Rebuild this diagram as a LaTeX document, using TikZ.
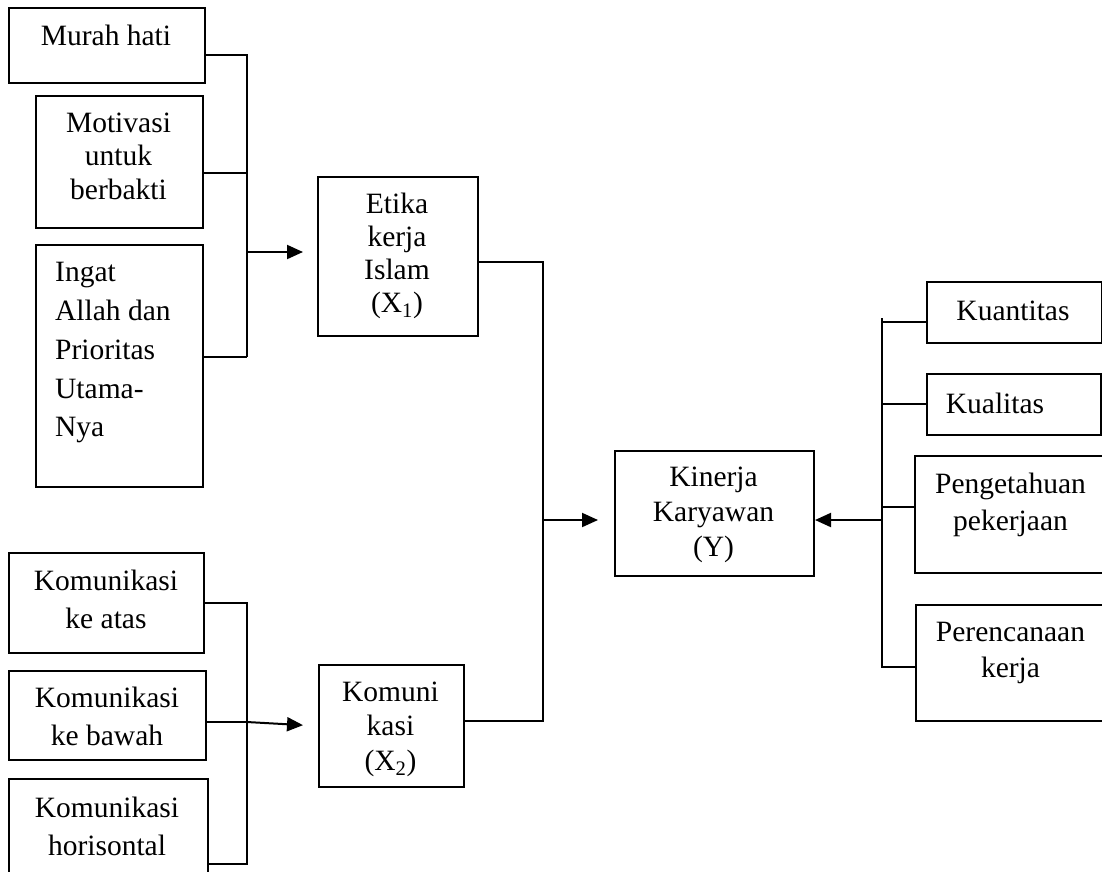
\documentclass[tikz,border=0pt]{standalone}
\usepackage{fontspec}
\setmainfont{Liberation Serif}
\usetikzlibrary{positioning,calc,arrows.meta}

\tikzset{
  box/.style={draw, line width=2pt, anchor=north west, inner sep=0pt},
  txt/.style={font=\fontsize{29.5}{#1}\selectfont, align=center, inner sep=0pt},
  txt/.default=36,
  conn/.style={line width=2pt},
  arr/.style={conn, -{Triangle[length=16pt,width=14pt]}},
}

\begin{document}
\begin{tikzpicture}[x=1pt,y=-1pt]
\useasboundingbox (0,0) rectangle (1102,871);
\clip (0,0) rectangle (1102,871);

% INDICATORS X1

\node[box, minimum width=196pt, minimum height=75pt]  (x1i1) at (8,7)   {};
\node[box, minimum width=167pt, minimum height=132pt] (x1i2) at (35,95)  {};
\node[box, minimum width=167pt, minimum height=242pt] (x1i3) at (35,244) {};

\node[txt, anchor=base] (x1i1t) at (106,45) {Murah hati};
\node[txt=33.5] (x1i2t) at (118.5,156) {Motivasi\\untuk\\berbakti};
\node[txt=38.75, align=left, anchor=west] (x1i3t) at (55,353) {Ingat\\Allah dan\\Prioritas\\Utama-\\Nya};

% INDICATORS X2

\node[box, minimum width=195pt, minimum height=100pt] (x2i1) at (8,552) {};
\node[box, minimum width=197pt, minimum height=89pt]  (x2i2) at (8,670) {};
\node[box, minimum width=199pt, minimum height=130pt] (x2i3) at (8,778) {};

\node[txt=38] (x2i1t) at (106,599) {Komunikasi\\ke atas};
\node[txt=38] (x2i2t) at (107,716) {Komunikasi\\ke bawah};
\node[txt=38] (x2i3t) at (107,826) {Komunikasi\\horisontal};

% VARIABLES

\node[box, minimum width=160pt, minimum height=159pt] (x1) at (317,176) {};
\node[box, minimum width=145pt, minimum height=122pt] (x2) at (318,664) {};
\node[box, minimum width=199pt, minimum height=125pt] (y)  at (614,450) {};

\node[txt=33]   (x1t) at (397,256)   {Etika\\kerja\\Islam\\(X\textsubscript{1})};
\node[txt=34.5] (x2t) at (390.5,729) {Komuni\\kasi\\(X\textsubscript{2})};
\node[txt=35]   (yt)  at (713.5,515) {Kinerja\\Karyawan\\(Y)};

% INDICATORS Y

\node[box, minimum width=175pt, minimum height=61pt]  (yi1) at (926,281) {};
\node[box, minimum width=174pt, minimum height=61pt]  (yi2) at (926,373) {};
\node[box, minimum width=200pt, minimum height=117pt] (yi3) at (914,455) {};
\node[box, minimum width=200pt, minimum height=116pt] (yi4) at (915,604) {};

\node[txt, anchor=base] (yi1t) at (1013,320) {Kuantitas};
\node[txt, anchor=base] (yi2t) at (995,413)  {Kualitas};
\node[txt=37] (yi3t) at (1010.5,505) {Pengetahuan\\pekerjaan};
\node[txt=36] (yi4t) at (1010.5,653) {Perencanaan\\kerja};

% CONNECTORS X1

\coordinate (a1) at (247,55);
\coordinate (a2) at (247,173);
\coordinate (a3) at (247,357);
\coordinate (a4) at (247,252);

\draw[conn] (x1i1.east |- a1) -- (a1) -- (a3);
\draw[conn] (x1i2.east |- a2) -- (a2);
\draw[conn] (x1i3.east |- a3) -- (a3);
\draw[arr, shorten >=14pt] (a4) -- (x1.west |- a4);

% CONNECTORS X2

\coordinate (b1) at (247,603);
\coordinate (b2) at (247,722);
\coordinate (b3) at (247,864);

\draw[conn] (x2i1.east |- b1) -- (b1) -- (b3) -- (x2i3.east |- b3);
\draw[conn] (x2i2.east |- b2) -- (b2);
\draw[arr, shorten >=15pt] (b2) -- (x2.west);

% CONNECTORS TO Y

\coordinate (m1) at (543,262);
\coordinate (m2) at (543,721);
\coordinate (m3) at (543,520);

\draw[conn] (x1.east |- m1) -- (m1) -- (m2) -- (x2.east |- m2);
\draw[arr, shorten >=16pt] (m3) -- (y.west |- m3);

% CONNECTORS Y

\coordinate (r0) at (882,318);
\coordinate (r1) at (882,322);
\coordinate (r2) at (882,404);
\coordinate (r3) at (882,507);
\coordinate (r4) at (882,667);
\coordinate (r5) at (882,520);

\draw[conn] (r0) -- (r4) -- (yi4.west |- r4);
\draw[conn] (r1) -- (yi1.west |- r1);
\draw[conn] (r2) -- (yi2.west |- r2);
\draw[conn] (r3) -- (yi3.west |- r3);
\draw[arr] (r5) -- (y.east |- r5);

\end{tikzpicture}
\end{document}
